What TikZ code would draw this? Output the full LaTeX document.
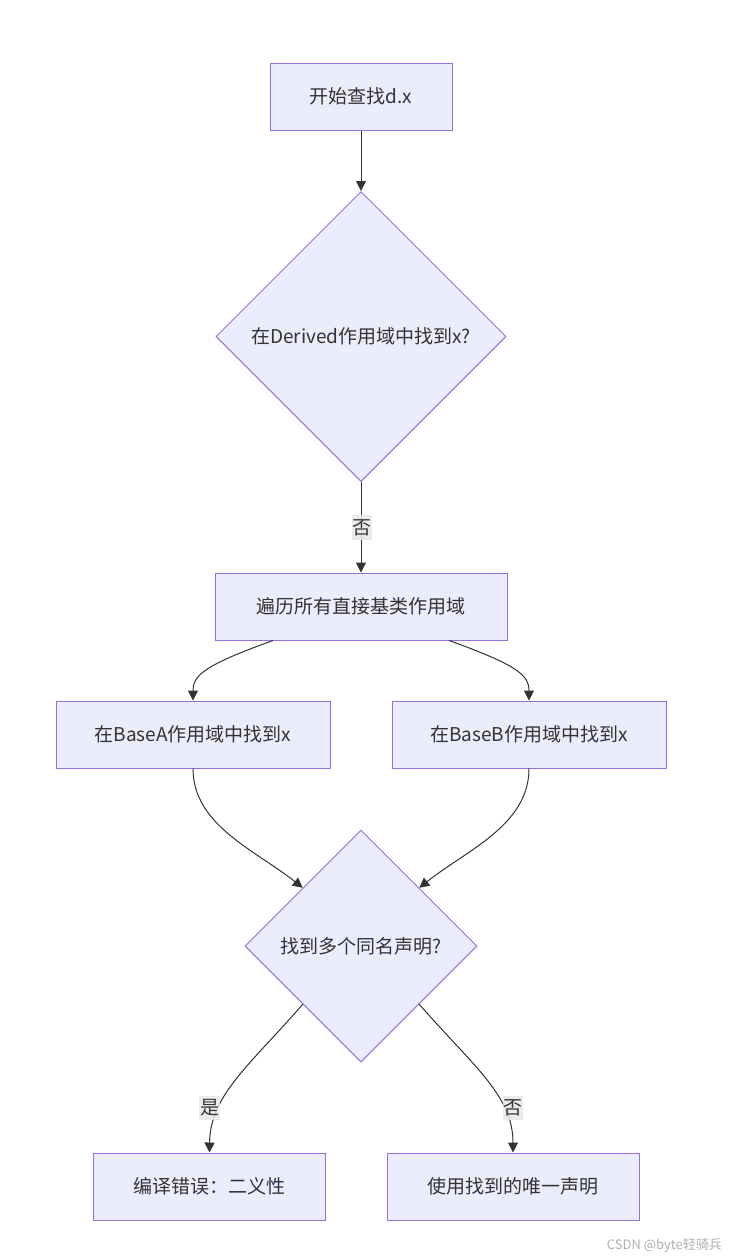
\documentclass[tikz,border=0pt]{standalone}
\usepackage{fontspec}
\setmainfont{Noto Sans CJK SC}
\usetikzlibrary{shapes.geometric,arrows.meta}
\definecolor{boxfill}{HTML}{ECECFF}
\definecolor{boxline}{HTML}{9370DB}
\definecolor{edgecol}{HTML}{333333}
\definecolor{lblbg}{HTML}{E8E8E8}
\definecolor{wm}{HTML}{B0B0B0}
\tikzset{
  proc/.style={draw=boxline, fill=boxfill, line width=1pt, minimum height=67pt, inner sep=0pt, text=edgecol, font=\fontsize{19}{22}\selectfont},
  decide/.style={diamond, draw=boxline, fill=boxfill, line width=1pt, inner sep=0pt, aspect=1, text=edgecol, font=\fontsize{19}{22}\selectfont},
  arr/.style={draw=edgecol, line width=1pt, -{Triangle[length=10pt,width=10pt]}},
  lbl/.style={fill=lblbg, fill opacity=0.85, text opacity=1, text=edgecol, inner xsep=0.6pt, inner ysep=4pt, font=\fontsize{19}{22}\selectfont},
}
\begin{document}
\begin{tikzpicture}[x=1pt,y=-1pt]
\useasboundingbox (0,0) rectangle (732,1259);
\node[proc, minimum width=182pt] (s) at (361,96.5) {开始查找d.x};
\node[decide, minimum width=290pt, minimum height=290pt] (d1) at (361,336.5) {在Derived作用域中找到x?};
\node[proc, minimum width=292pt] (b2) at (361,606.5) {遍历所有直接基类作用域};
\node[proc, minimum width=274pt] (a) at (193,734.5) {在BaseA作用域中找到x};
\node[proc, minimum width=274pt] (b) at (529,734.5) {在BaseB作用域中找到x};
\node[decide, minimum width=232pt, minimum height=232pt] (d2) at (361,946) {找到多个同名声明?};
\node[proc, minimum width=232pt] (e1) at (209.5,1186.5) {编译错误：二义性};
\node[proc, minimum width=252pt] (e2) at (513,1186.5) {使用找到的唯一声明};

\draw[arr] (s.south) -- (d1.north);
\draw[arr] (d1.south) -- (b2.north);
\node[lbl] (l1) at (362,527.5) {否};

\draw[arr] ([xshift=-88pt]b2.south) .. controls (205,665) and (193,675) .. (a.north);
\draw[arr] ([xshift=88pt]b2.south) .. controls (517,665) and (529,675) .. (b.north);

\draw[arr] (a.south) .. controls (193,825) and (255,850) .. (d2.north west);
\draw[arr] (b.south) .. controls (529,825) and (467,850) .. (d2.north east);

\draw[arr] (d2.south west) .. controls (250,1065) and (210,1095) .. (e1.north);
\draw[arr] (d2.south east) .. controls (472,1065) and (513,1095) .. (e2.north);
\node[lbl] (l2) at (209.5,1108) {是};
\node[lbl] (l3) at (513,1108) {否};

\node[anchor=east, text=wm, font=\fontsize{13}{15}\selectfont, inner sep=0pt] (wmk) at (722,1246) {CSDN @byte轻骑兵};
\end{tikzpicture}
\end{document}
